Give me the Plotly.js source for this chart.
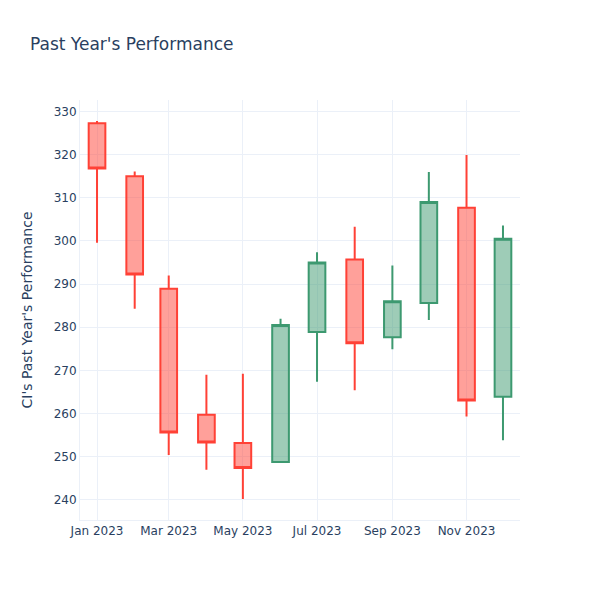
<!DOCTYPE html>
<html>
<head>
<meta charset="utf-8">
<script src="https://cdn.plot.ly/plotly-3.0.1.min.js"></script>
<style>html,body{margin:0;padding:0;}#chart{width:600px;height:600px;}</style>
</head>
<body>
<div id="chart"></div>
<script>
const dates = ["2023-01-01","2023-02-01","2023-03-01","2023-04-01","2023-05-01","2023-06-01","2023-07-01","2023-08-01","2023-09-01","2023-10-01","2023-11-01","2023-12-01"];
const openV  = [327.3, 315.0, 288.9, 259.7, 253.2, 248.8, 278.9, 295.7, 277.7, 285.6, 307.7, 263.9];
const highV  = [327.8, 316.1, 292.0, 269.0, 269.2, 282.0, 297.4, 303.3, 294.3, 316.0, 319.9, 303.6];
const lowV   = [299.6, 284.3, 250.4, 247.0, 240.2, 248.8, 267.4, 265.4, 274.9, 281.7, 259.3, 253.8];
const closeV = [316.8, 292.2, 255.6, 253.3, 247.4, 280.5, 295.0, 276.3, 286.0, 309.0, 263.0, 300.5];

const grid = '#EBF0F8';
Plotly.newPlot('chart', [{
  type: 'candlestick',
  x: dates, open: openV, high: highV, low: lowV, close: closeV
}], {
  width: 600, height: 600,
  margin: {l: 80, r: 80, t: 100, b: 80},
  paper_bgcolor: 'white', plot_bgcolor: 'white',
  font: {family: 'DejaVu Sans, sans-serif', color: '#2a3f5f'},
  title: {text: "Past Year's Performance", x: 0.05},
  xaxis: {rangeslider: {visible: false}, gridcolor: grid, zerolinecolor: grid, linecolor: grid, ticks: '', automargin: true},
  yaxis: {title: {text: "CI's Past Year's Performance", standoff: 17}, gridcolor: grid, zerolinecolor: grid, linecolor: grid, ticks: '', automargin: true},
  showlegend: false
}, {displayModeBar: false});
</script>
</body>
</html>
